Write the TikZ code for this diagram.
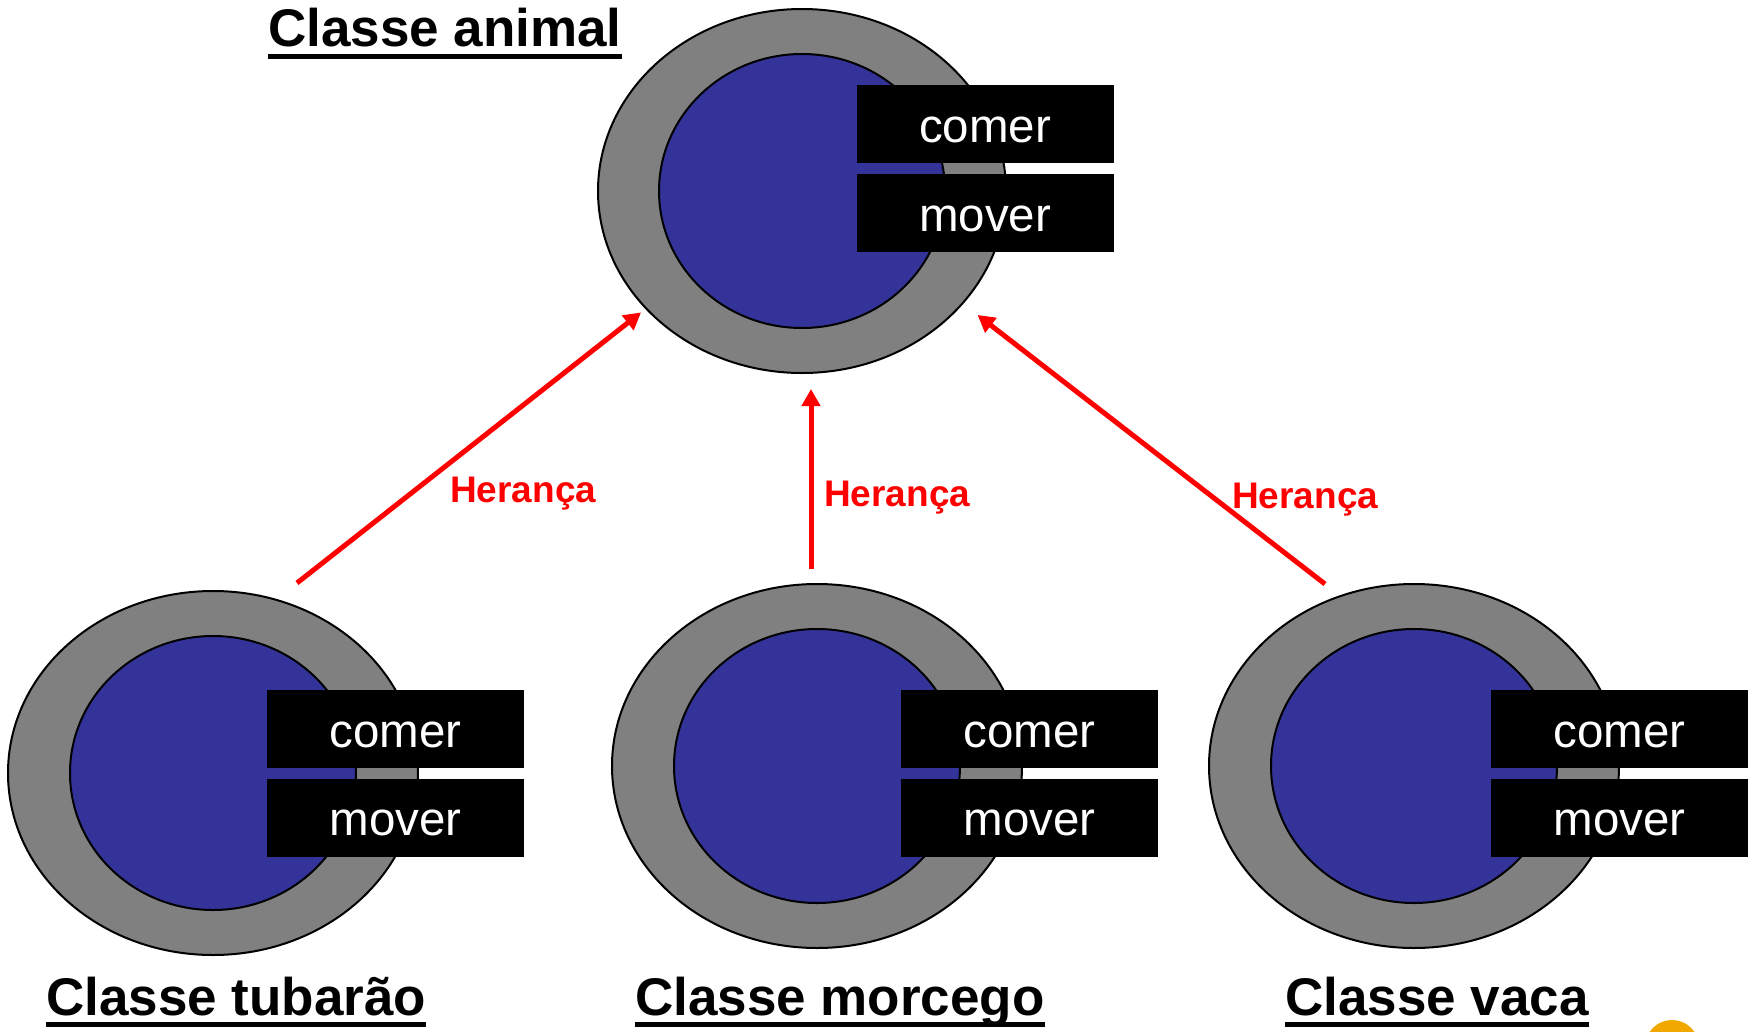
\documentclass[tikz,border=0pt]{standalone}
\usepackage{fontspec}
\setmainfont{Liberation Sans}
\usetikzlibrary{shapes.geometric,arrows.meta}
\definecolor{cinza}{HTML}{808080}
\definecolor{azul}{HTML}{333399}
\definecolor{laranja}{HTML}{F0A800}
\newcommand{\titulo}{\fontsize{53}{60}\selectfont\bfseries}
\newcommand{\metodo}{\fontsize{47.5}{54}\selectfont}
\newcommand{\rotulo}{\fontsize{37}{42}\selectfont\bfseries}
\tikzset{
	casca/.style={ellipse,draw,line width=2pt,fill=cinza,inner sep=0pt,minimum width=410pt,minimum height=364pt},
	nucleo/.style={ellipse,draw,line width=2pt,fill=azul,inner sep=0pt,minimum width=286pt,minimum height=274pt},
	caixa/.style={fill=black,text=white,inner sep=0pt,minimum width=257pt,minimum height=78pt,text height=36pt,text depth=0pt,font=\metodo},
	classe/.style={anchor=base west,inner sep=0pt,font=\titulo},
	sublinha/.style={line width=5.5pt},
	heranca/.style={red,line width=5pt,-{Triangle[length=17pt,width=18pt]}},
	rotulo/.style={anchor=base west,inner sep=0pt,text=red,font=\rotulo}
}

\begin{document}
\begin{tikzpicture}[x=1pt,y=-1pt]
	\useasboundingbox(0,0)rectangle(1754,1031);
	\clip(0,0)rectangle(1754,1031);
	
	\node[casca,minimum width=408pt] at (802,191)(anim){};
	\node[nucleo] at (802,191)(animn){};
	\node[caixa] at (985,124)(animc){comer};
	\node[caixa] at (985,213)(animm){mover};
	\node[classe] at (268,46)(animt){Classe animal};
	\draw[sublinha]([yshift=-10.5pt]animt.base west)--([yshift=-10.5pt]animt.base east);
	
	\node[casca] at (213,773)(tub){};
	\node[nucleo] at (213,773)(tubn){};
	\node[caixa] at (395.5,729)(tubc){comer};
	\node[caixa] at (395.5,817.5)(tubm){mover};
	\node[classe] at (46,1015)(tubt){Classe tubarão};
	\draw[sublinha]([yshift=-9.5pt]tubt.base west)--([yshift=-9.5pt]tubt.base east);
	
	\node[casca] at (817,766)(morc){};
	\node[nucleo] at (817,766)(morcn){};
	\node[caixa] at (1029.5,729)(morcc){comer};
	\node[caixa] at (1029.5,817.5)(morcm){mover};
	\node[classe] at (635,1015)(morct){Classe morcego};
	\draw[sublinha]([yshift=-9.5pt]morct.base west)--([yshift=-9.5pt]morct.base east);
	
	\node[casca] at (1414,766)(vaca){};
	\node[nucleo] at (1414,766)(vacan){};
	\node[caixa] at (1619.5,729)(vacac){comer};
	\node[caixa] at (1619.5,817.5)(vacam){mover};
	\node[classe] at (1285,1015)(vacat){Classe vaca};
	\draw[sublinha]([yshift=-9.5pt]vacat.base west)--([yshift=-9.5pt]vacat.base east);
	
	\coordinate (c1) at (297,583);
	\coordinate (c2) at (811,569);
	\coordinate (c3) at (1325,584);
	\path[heranca](c1)edge[shorten >=5.5pt](anim.217.5)(c2)edge[shorten >=15pt](c2|-anim.south)(c3)edge[shorten >=18pt](anim.325.6);
	\node[rotulo] at (450,502)(h1){Herança};
	\node[rotulo] at (824,506)(h2){Herança};
	\node[rotulo] at (1232,508)(h3){Herança};
	
	\fill[laranja](1672,1047)circle[radius=27pt];
\end{tikzpicture}
\end{document}
